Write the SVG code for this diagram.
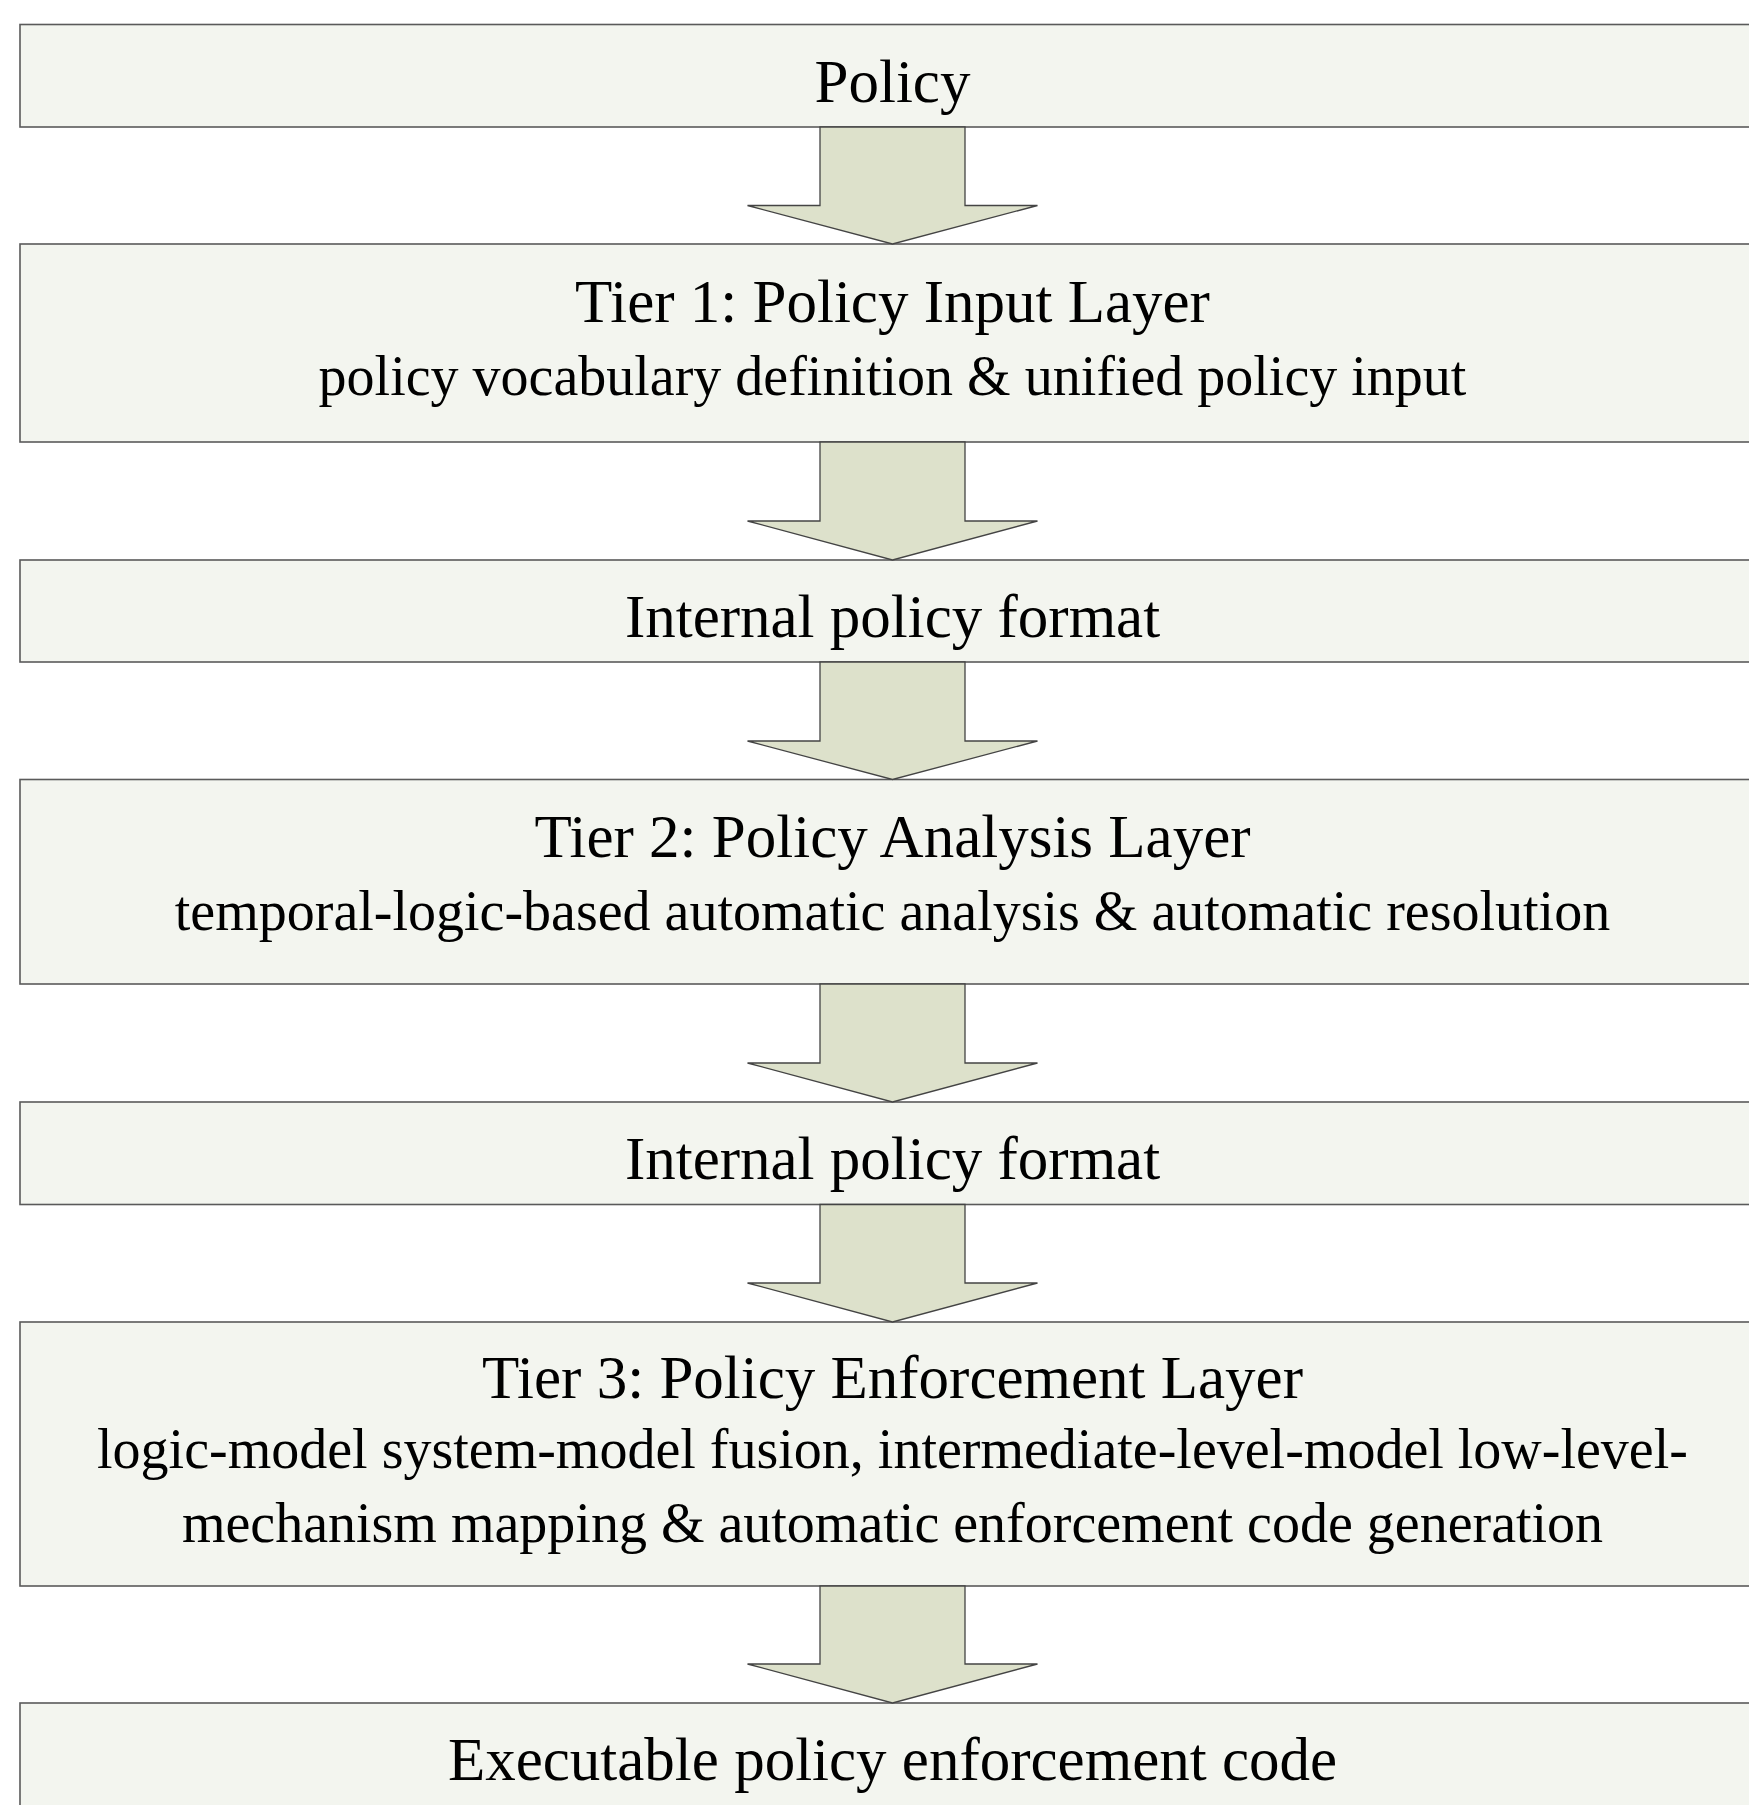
<svg xmlns="http://www.w3.org/2000/svg" width="1749" height="1805" viewBox="0 0 1749 1805">
<style>
.box{fill:#f3f5ef;stroke:#5a5a5a;stroke-width:1.6}
.arr{fill:#dde1cb;stroke:#444444;stroke-width:1.3;stroke-linejoin:miter}
.t{font-family:"Liberation Serif","Times New Roman",serif;fill:#000;text-anchor:middle}
.h{font-size:61px}
.d{font-size:56px}
</style>
<rect width="1749" height="1805" fill="#ffffff"/>
<g id="node-policy">
<rect class="box" x="20" y="24.5" width="1745" height="102.5"/>
<text class="t h" x="892.5" y="101.7">Policy</text>
</g>
<g id="node-tier1">
<rect class="box" x="20" y="244" width="1745" height="198"/>
<text class="t h" x="892.5" y="321.7">Tier 1: Policy Input Layer</text>
<text class="t d" x="892.5" y="395">policy vocabulary definition &amp; unified policy input</text>
</g>
<g id="node-internal1">
<rect class="box" x="20" y="560" width="1745" height="102"/>
<text class="t h" x="892.5" y="636.7">Internal policy format</text>
</g>
<g id="node-tier2">
<rect class="box" x="20" y="779.5" width="1745" height="204.5"/>
<text class="t h" x="892.5" y="856.7">Tier 2: Policy Analysis Layer</text>
<text class="t d" x="892.5" y="930">temporal-logic-based automatic analysis &amp; automatic resolution</text>
</g>
<g id="node-internal2">
<rect class="box" x="20" y="1102" width="1745" height="102.5"/>
<text class="t h" x="892.5" y="1178.7">Internal policy format</text>
</g>
<g id="node-tier3">
<rect class="box" x="20" y="1322" width="1745" height="264"/>
<text class="t h" x="892.5" y="1398.3">Tier 3: Policy Enforcement Layer</text>
<text class="t d" x="892.5" y="1468.3">logic-model system-model fusion, intermediate-level-model low-level-</text>
<text class="t d" x="892.5" y="1541.7">mechanism mapping &amp; automatic enforcement code generation</text>
</g>
<g id="node-executable">
<rect class="box" x="20" y="1703" width="1745" height="140"/>
<text class="t h" x="892.5" y="1780">Executable policy enforcement code</text>
</g>
<g id="connectors">
<polygon class="arr" points="820,127 965,127 965,205.5 1037.5,205.5 892.5,244 747.5,205.5 820,205.5"/>
<polygon class="arr" points="820,442 965,442 965,521 1037.5,521 892.5,560 747.5,521 820,521"/>
<polygon class="arr" points="820,662 965,662 965,741 1037.5,741 892.5,779.5 747.5,741 820,741"/>
<polygon class="arr" points="820,984 965,984 965,1063 1037.5,1063 892.5,1102 747.5,1063 820,1063"/>
<polygon class="arr" points="820,1204.5 965,1204.5 965,1283 1037.5,1283 892.5,1322 747.5,1283 820,1283"/>
<polygon class="arr" points="820,1586 965,1586 965,1664 1037.5,1664 892.5,1703 747.5,1664 820,1664"/>
</g>
</svg>
